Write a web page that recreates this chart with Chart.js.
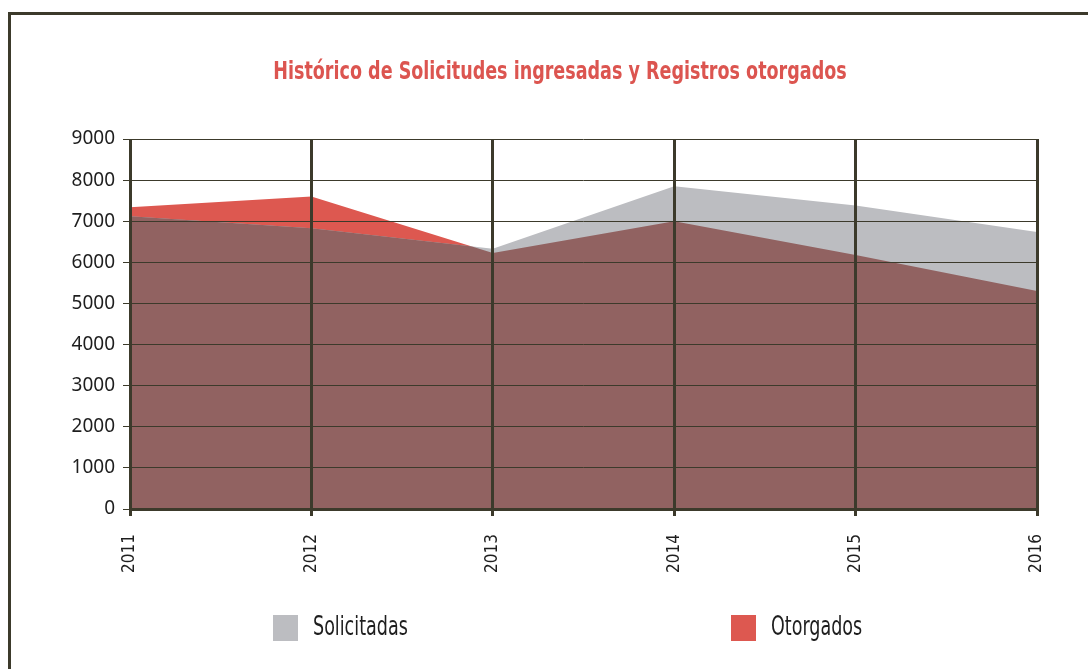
<!DOCTYPE html>
<html>
<head>
<meta charset="utf-8">
<script src="https://cdn.jsdelivr.net/npm/chart.js@4"></script>
<style>
  html, body { margin: 0; padding: 0; background: #fff; overflow: hidden; }
  #wrap { position: relative; width: 1088px; height: 669px; }
  #frame { position: absolute; left: 8px; top: 12px; width: 1200px; height: 800px;
           border-left: 3px solid #3c3a2b; border-top: 3px solid #3c3a2b; }
  canvas { position: absolute; left: 0; top: 0; }
</style>
</head>
<body>
<div id="wrap">
  <div id="frame"></div>
  <canvas id="chart" width="1088" height="669"></canvas>
</div>
<script>
var years = ['2011', '2012', '2013', '2014', '2015', '2016'];
var solicitadas = [7120, 6830, 6330, 7850, 7380, 6740];
var otorgados = [7340, 7600, 6230, 7000, 6180, 5300];
var yTicks = [0, 1000, 2000, 3000, 4000, 5000, 6000, 7000, 8000, 9000];
var titulo = 'Histórico de Solicitudes ingresadas y Registros otorgados';

var gris = '#bcbdc1';
var rojo = '#dd5850';
var cafe = '#916261';
var linea = '#3c3a2b';
var narrow = '"DejaVu Sans Condensed", "Liberation Sans Narrow", sans-serif';

// pinta en cafe la zona donde se cruzan las dos areas
var cruce = {
  id: 'cruce',
  afterDatasetsDraw: function (chart) {
    var ctx = chart.ctx;
    var base = chart.scales.y.getPixelForValue(0);
    var a = chart.getDatasetMeta(0).data;
    var b = chart.getDatasetMeta(1).data;
    function poly(pts) {
      ctx.beginPath();
      ctx.moveTo(pts[0].x, base);
      pts.forEach(function (p) { ctx.lineTo(p.x, p.y); });
      ctx.lineTo(pts[pts.length - 1].x, base);
      ctx.closePath();
    }
    ctx.save();
    poly(a);
    ctx.clip();
    poly(b);
    ctx.fillStyle = cafe;
    ctx.fill();
    ctx.restore();
  }
};

// texto angosto: se dibuja con escala horizontal
function textoAngosto(ctx, txt, x, y, font, color, sx, align) {
  ctx.save();
  ctx.font = font;
  ctx.fillStyle = color;
  ctx.textBaseline = 'middle';
  ctx.textAlign = align || 'left';
  ctx.translate(x, y);
  ctx.scale(sx, 1);
  ctx.fillText(txt, 0, 0);
  ctx.restore();
}

var textos = {
  id: 'textos',
  afterDraw: function (chart) {
    var ctx = chart.ctx;
    textoAngosto(ctx, titulo, 560, 72, 'bold 25px ' + narrow, '#dc5550', 0.78, 'center');
    var xs = [273, 731];
    chart.data.datasets.forEach(function (ds, i) {
      ctx.fillStyle = ds.backgroundColor;
      ctx.fillRect(xs[i], 615, 25, 26);
      textoAngosto(ctx, ds.label, xs[i] + 40, 628, '26px ' + narrow, '#1e1e1e', 0.75);
    });
  }
};

var ctx = document.getElementById('chart');
var myChart = new Chart(ctx, {
  type: 'line',
  data: {
    labels: years,
    datasets: [{
      label: 'Solicitadas',
      data: solicitadas,
      backgroundColor: gris,
      borderWidth: 0,
      pointRadius: 0,
      fill: 'origin'
    }, {
      label: 'Otorgados',
      data: otorgados,
      backgroundColor: rojo,
      borderWidth: 0,
      pointRadius: 0,
      fill: 'origin'
    }]
  },
  options: {
    responsive: false,
    animation: false,
    layout: { padding: { left: 0, right: 51, top: 139, bottom: 0 } },
    plugins: {
      legend: { display: false },
      tooltip: { enabled: false },
      title: { display: false }
    },
    scales: {
      x: {
        grid: { z: 1, color: linea, lineWidth: 3, tickLength: 7, tickColor: linea },
        border: { z: 1, color: linea, width: 3 },
        ticks: {
          color: '#1e1e1e', maxRotation: 90, minRotation: 90, padding: 18,
          font: { family: narrow, size: 17 }
        },
        afterFit: function (s) { s.height = 160; }
      },
      y: {
        min: 0,
        max: 9000,
        afterBuildTicks: function (s) { s.ticks = yTicks.map(function (v) { return { value: v }; }); },
        grid: { z: 1, color: linea, lineWidth: 1, tickLength: 7, tickColor: linea },
        border: { display: false },
        ticks: {
          color: '#1e1e1e', padding: 8,
          font: { family: '"Noto Sans", sans-serif', size: 19 },
          callback: function (v) { return String(v); }
        },
        afterFit: function (s) { s.width = 130; }
      }
    }
  },
  plugins: [cruce, textos]
});
</script>
</body>
</html>
